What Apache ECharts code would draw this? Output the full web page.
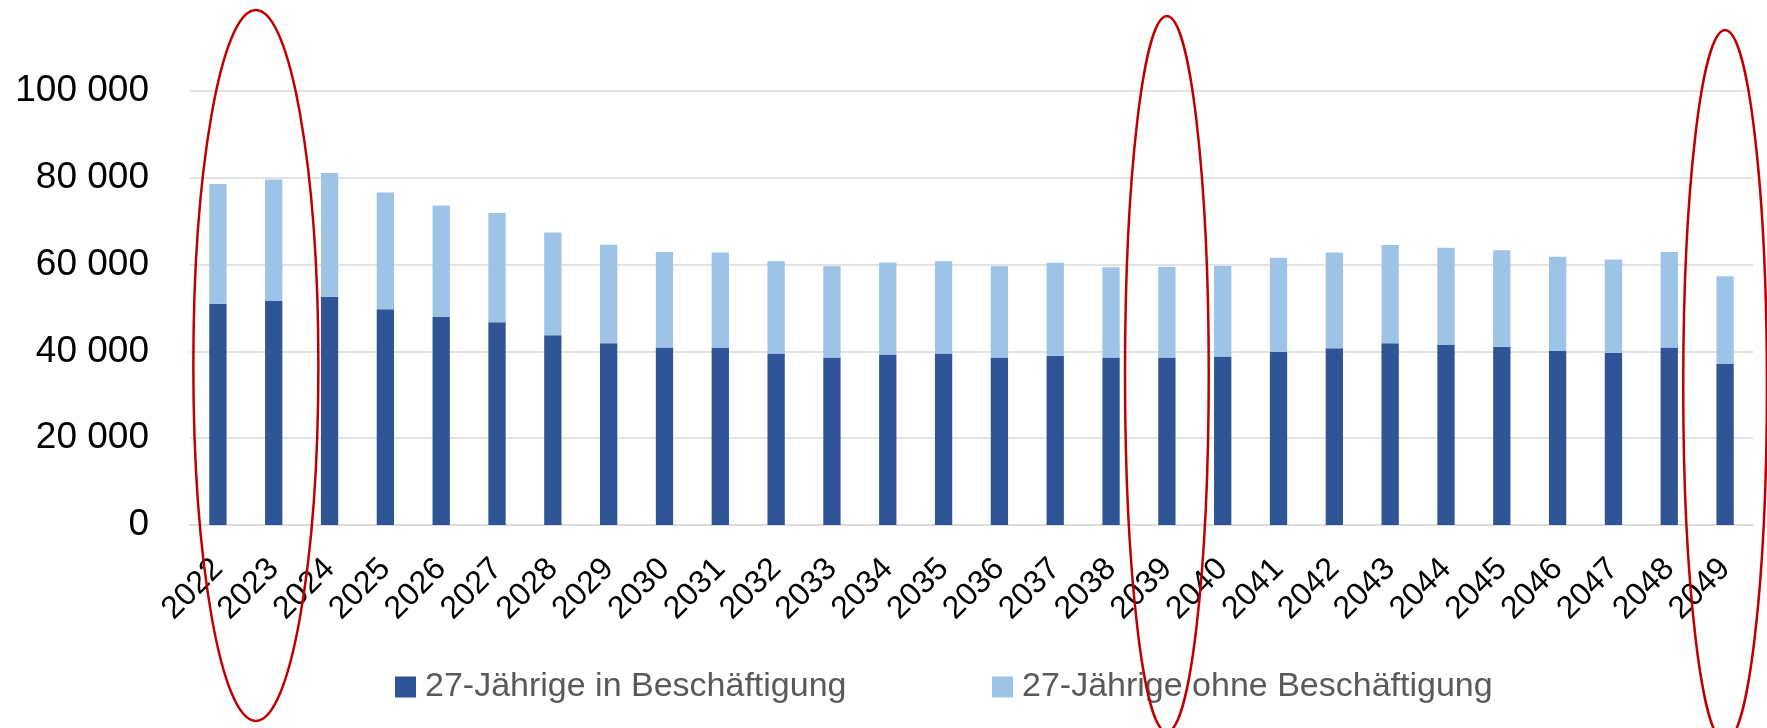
<!DOCTYPE html>
<html>
<head>
<meta charset="utf-8">
<script src="https://cdn.jsdelivr.net/npm/echarts@6/dist/echarts.min.js"></script>
<style>
html,body{margin:0;padding:0;background:#fff;}
#chart{width:1767px;height:728px;}
</style>
</head>
<body>
<div id="chart"></div>
<script>
const years = ['2022','2023','2024','2025','2026','2027','2028','2029','2030','2031','2032','2033','2034','2035','2036','2037','2038','2039','2040','2041','2042','2043','2044','2045','2046','2047','2048','2049'];
const employed = [51000,51600,52600,49700,47900,46700,43700,41900,40900,40800,39500,38600,39300,39500,38600,39000,38600,38600,38800,39900,40700,41900,41500,41100,40100,39700,40900,37100];
const notEmployed = [27600,28000,28500,26900,25700,25200,23700,22700,22000,22000,21300,21000,21200,21300,21000,21400,20800,20900,20900,21700,22100,22600,22400,22200,21700,21500,22000,20200];
const seriesNames = ['27-Jährige in Beschäftigung','27-Jährige ohne Beschäftigung'];
const yTicks = [0,20000,40000,60000,80000,100000];
const highlighted = [['2022','2023'],['2039'],['2049']];

const chart = echarts.init(document.getElementById('chart'));
const fmt = v => String(v).replace(/\B(?=(\d{3})+(?!\d))/g, ' ');
const legendText = {fontFamily:'Liberation Sans', fontSize:34, color:'#595959', padding:[0,0,0,4]};
chart.setOption({
  animation:false,
  backgroundColor:'#fff',
  grid:{left:190, right:14, top:91, bottom:203, containLabel:false},
  legend:[
    {data:[seriesNames[0]], left:390, top:665, itemWidth:21, itemHeight:21, itemGap:0, icon:'rect', textStyle:legendText},
    {data:[seriesNames[1]], left:987, top:665, itemWidth:21, itemHeight:21, itemGap:0, icon:'rect', textStyle:legendText}
  ],
  xAxis:{
    type:'category', data:years,
    axisLine:{show:true, lineStyle:{color:'#D9D9D9', width:1.5}},
    axisTick:{show:false},
    axisLabel:{rotate:45, interval:0, margin:39, fontFamily:'Liberation Sans', fontSize:32, color:'#000'}
  },
  yAxis:{
    type:'value', min:yTicks[0], max:yTicks[yTicks.length-1], interval:yTicks[1]-yTicks[0],
    axisLine:{show:false}, axisTick:{show:false},
    splitLine:{lineStyle:{color:'#D9D9D9', width:1.5}},
    axisLabel:{margin:41, fontFamily:'Liberation Sans', fontSize:37, color:'#000', formatter:fmt}
  },
  series:[
    {name:seriesNames[0], type:'bar', stack:'total', data:employed, barWidth:'31%', itemStyle:{color:'#2F5597'}},
    {name:seriesNames[1], type:'bar', stack:'total', data:notEmployed, barWidth:'31%', itemStyle:{color:'#9DC3E6'}}
  ]
});

// red highlight ellipses positioned from the category axis
const graphics = highlighted.map((cats, i) => {
  const xs = cats.map(c => chart.convertToPixel({xAxisIndex:0}, c));
  const bandW = chart.convertToPixel({xAxisIndex:0}, years[1]) - chart.convertToPixel({xAxisIndex:0}, years[0]);
  const multi = cats.length > 1;
  const cx = xs.reduce((a,b)=>a+b,0)/xs.length + (multi ? bandW*0.18 : 0);
  const rx = multi ? bandW*1.12 : bandW*0.75;
  const tops = [10, 16, 30];
  const bottoms = [721, 732, 742];
  return {
    type:'ellipse', z:100, silent:true,
    shape:{cx:cx, cy:(tops[i]+bottoms[i])/2, rx:rx, ry:(bottoms[i]-tops[i])/2},
    style:{fill:'none', stroke:'#C00000', lineWidth:2.5}
  };
});
chart.setOption({graphic:graphics});
</script>
</body>
</html>
